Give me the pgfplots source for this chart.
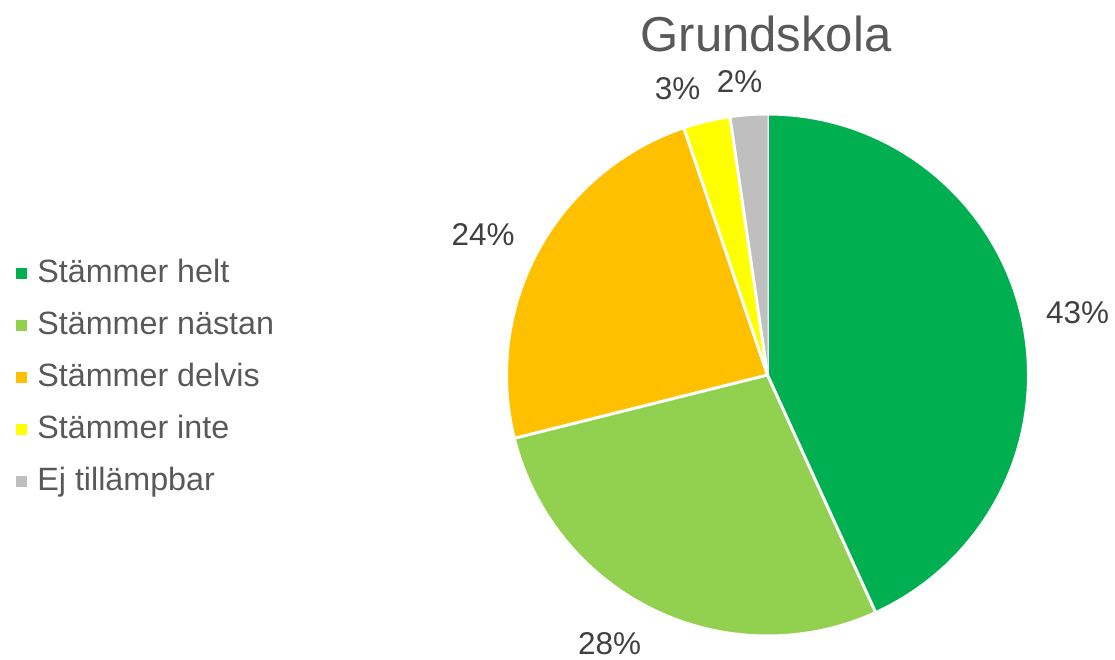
\documentclass[border=0pt]{standalone}
\usepackage{fontspec}
\setmainfont{Liberation Sans}
\usepackage{pgfplots}
\usepackage{pgfplotstable}
\pgfplotsset{compat=1.18}
\definecolor{c1}{HTML}{00B050}
\definecolor{c2}{HTML}{92D050}
\definecolor{c3}{HTML}{FFC000}
\definecolor{c4}{HTML}{FFFF00}
\definecolor{c5}{HTML}{BFBFBF}
\definecolor{titlegray}{HTML}{595959}
\definecolor{labgray}{HTML}{404040}

\pgfplotstableread[col sep=comma]{
name,value,color,lx,ly,lab
Stämmer helt,43.2,c1,1077.5,347.5,43\%
Stämmer nästan,27.9,c2,609.5,16.5,28\%
Stämmer delvis,23.7,c3,483,425,24\%
Stämmer inte,2.9,c4,677.5,571.5,3\%
Ej tillämpbar,2.3,c5,739.5,578.5,2\%
}\piedata

\def\cx{767.5}
\def\cy{285}
\def\R{261}

\begin{document}
\begin{tikzpicture}
\begin{axis}[
  x=0.75pt, y=0.75pt,
  xmin=0, xmax=1115, ymin=0, ymax=660,
  hide axis, clip=false,
  legend image code/.code={\fill[#1, draw=none] (0pt,-4.1pt) rectangle (8.25pt,4.15pt);},
  legend style={at={(axis cs:16,282)}, anchor=west, draw=none, fill=none,
    inner sep=0pt, outer sep=0pt,
    font=\fontsize{24.2}{28}\selectfont, text=titlegray,
    row sep=16pt,
    nodes={inner sep=0pt, outer sep=0pt, text height=18pt, text depth=5pt},
    /tikz/every odd column/.append style={column sep=7.8pt}},
  legend cell align=left,
]
\path (axis cs:0,0) rectangle (axis cs:1115,660);
\pgfplotstablegetrowsof{\piedata}
\pgfmathtruncatemacro\N{\pgfplotsretval-1}
\def\cum{0}
\pgfplotsforeachungrouped \i in {0,...,\N}{%
  \pgfplotstablegetelem{\i}{value}\of\piedata \let\v\pgfplotsretval
  \pgfplotstablegetelem{\i}{color}\of\piedata \let\c\pgfplotsretval
  \pgfplotstablegetelem{\i}{lx}\of\piedata \let\lx\pgfplotsretval
  \pgfplotstablegetelem{\i}{ly}\of\piedata \let\ly\pgfplotsretval
  \pgfplotstablegetelem{\i}{lab}\of\piedata \let\lab\pgfplotsretval
  \pgfmathsetmacro\a{90-3.6*\cum}%
  \pgfmathsetmacro\b{90-3.6*(\cum+\v)}%
  \pgfmathsetmacro\cum{\cum+\v}%
  \pgfmathsetmacro\xa{\cx+\R*cos(\a)}%
  \pgfmathsetmacro\ya{\cy+\R*sin(\a)}%
  \edef\temp{\noexpand\fill[\c] (axis cs:\cx,\cy) -- (axis cs:\xa,\ya) arc[start angle=\a, end angle=\b, radius=195.75pt] -- cycle;}%
  \temp
  \edef\temp{\noexpand\draw[white, line width=2.25pt, line join=round] (axis cs:\cx,\cy) -- (axis cs:\xa,\ya);}%
  \temp
  \edef\temp{\noexpand\node[font=\noexpand\fontsize{23.6}{28}\noexpand\selectfont, text=labgray, inner sep=0pt] at (axis cs:\lx,\ly) {\lab};}%
  \temp
  \edef\temp{\noexpand\addlegendimage{fill=\c}}%
  \temp
}
\draw[white, line width=2.25pt] (axis cs:\cx,\cy) circle[radius=195.75pt];
\node[font=\fontsize{36.8}{44}\selectfont, text=titlegray, anchor=base, inner sep=0pt] at (axis cs:766,608) {Grundskola};
\legend{Stämmer helt, Stämmer nästan, Stämmer delvis, Stämmer inte, Ej tillämpbar}
\end{axis}
\end{tikzpicture}
\end{document}
